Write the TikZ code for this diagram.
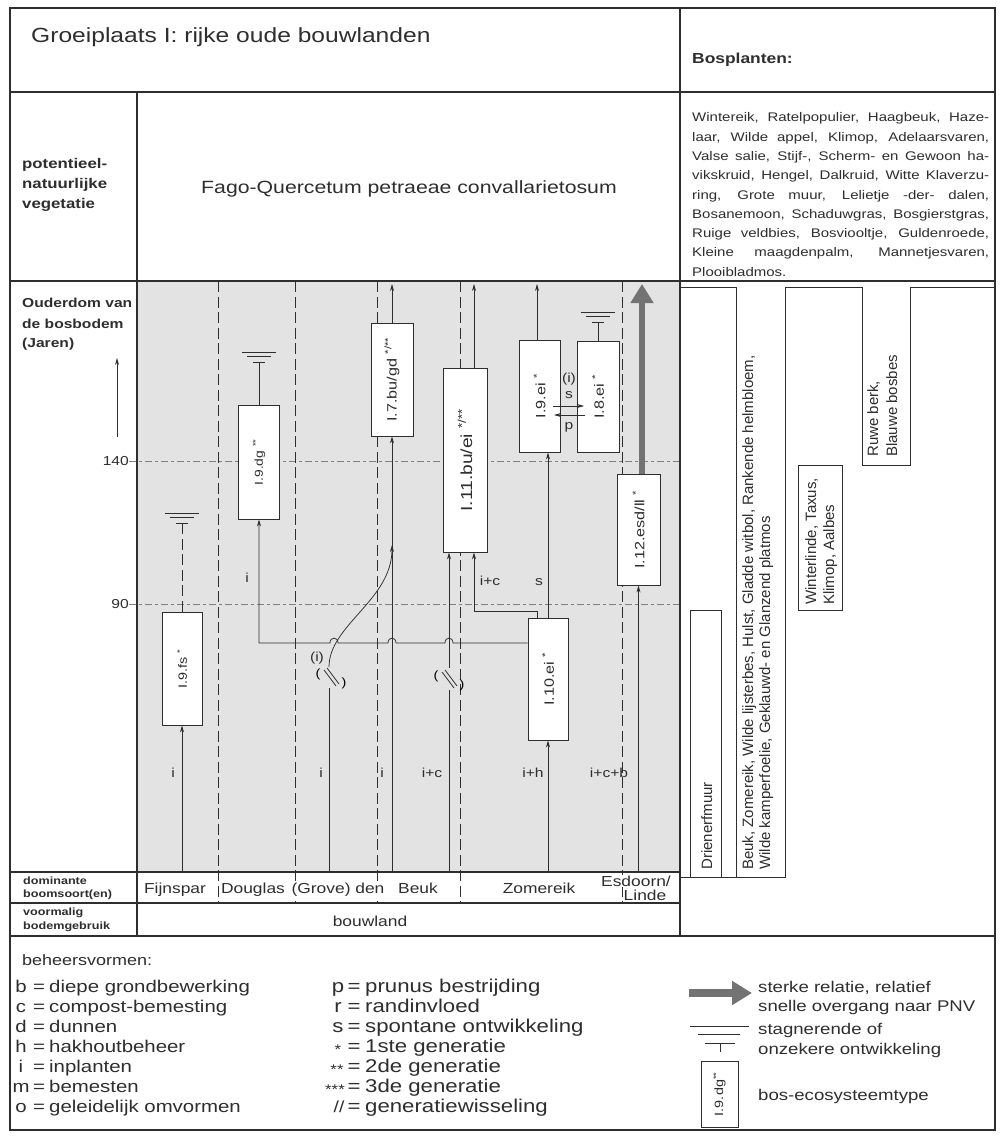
\documentclass[tikz,border=0pt]{standalone}
\usepackage{fontspec}
\setmainfont{Liberation Sans}
\newfontfamily\hv[FakeStretch=1.2]{Liberation Sans}
\usetikzlibrary{arrows.meta,calc}
\newcommand\fsz[1]{\fontsize{#1}{#1}\selectfont}
\definecolor{ink}{gray}{0.18}
\definecolor{stip}{gray}{0.89}
\definecolor{agel}{gray}{0.5}
\definecolor{pnv}{gray}{0.45}
\tikzset{
  frm/.style={draw=ink, line width=1.1pt},
  thinl/.style={draw=ink, line width=0.8pt},
  ebox/.style={draw=ink, fill=white, line width=0.9pt, inner sep=0pt},
  conn/.style={draw=ink, line width=0.75pt},
  arr/.style={conn, -{Stealth[length=7pt,width=4pt]}},
  colsep/.style={draw=ink, line width=0.8pt, dash pattern=on 11pt off 4.5pt},
  hsep/.style={draw=agel, line width=0.8pt, dash pattern=on 7pt off 3pt on 3pt off 3pt},
  lbl/.style={font=\hv\fsz{13}, text=ink, inner sep=0pt},
  blbl/.style={font=\hv\fsz{13.5}, text=ink, inner sep=0pt, rotate=90},
  plant/.style={font=\fsz{15}, text=ink, inner sep=0pt, rotate=90, anchor=base west},
  dom/.style={font=\hv\fsz{14.5}, text=ink, inner sep=1pt, fill=white, anchor=base},
  hd/.style={font=\hv\bfseries\fsz{13}, text=ink, inner sep=0pt, anchor=base west},
  lgd/.style={font=\hv\fsz{17}, text=ink, inner sep=0pt},
  mlg/.style={font=\hv\fsz{18.5}, text=ink, inner sep=0pt},
  rlg/.style={font=\hv\fsz{15.5}, text=ink, inner sep=0pt, anchor=base west},
  bpl/.style={font=\hv\fsz{12.5}, text=ink, inner sep=0pt, anchor=base west},
  pnvarrow/.style={draw=pnv, line width=6.5pt, -{Triangle[length=19pt,width=22pt]}},
  pnvleg/.style={draw=pnv, line width=8pt, -{Triangle[length=20pt,width=23pt]}},
  stag/.pic={\draw[ink, line width=0.8pt] (-17,0)--(17,0) (-12,4.5)--(12,4.5) (-6,10)--(6,10);},
  gw/.pic={\draw[ink, line width=0.8pt] (-7,-7)--(5,9) (-4,-9)--(8,7);
     \node[font=\hv\fsz{12}, inner sep=0pt] at (-13,-3) {(};
     \node[font=\hv\fsz{12}, inner sep=0pt] at (13,6) {)};},
}
\begin{document}
\begin{tikzpicture}[x=1pt,y=-1pt]
\useasboundingbox (0,0) rectangle (1003,1139);
\fill[white] (0,0) rectangle (1003,1139);
\fill[stip] (137,281) rectangle (680,872);

% age lines
\node[lbl, anchor=east] (l140) at (129,461) {140};
\node[lbl, anchor=east] (l90) at (129,604) {90};
\coordinate (e140) at (680,461);
\coordinate (e90) at (680,604);
\draw[hsep] (l140.east) -- (e140);
\draw[hsep] (l90.east) -- (e90);

% column separators
\foreach \x/\n in {218/a,295/b,377/c,460/d,622/e} {
  \coordinate (cs\n1) at (\x,281); \coordinate (cs\n2) at (\x,903);
  \draw[colsep] (cs\n1) -- (cs\n2);
}

% boxes
\node[ebox, minimum width=40pt, minimum height=113pt] (b9fs) at (182,668.5) {};
\node[ebox, minimum width=41pt, minimum height=114pt] (b9dg) at (259,462) {};
\node[ebox, minimum width=42pt, minimum height=113pt] (b7) at (392,379.5) {};
\node[ebox, minimum width=44pt, minimum height=184pt] (b11) at (465,460) {};
\node[ebox, minimum width=41pt, minimum height=112pt] (b9ei) at (539.5,396) {};
\node[ebox, minimum width=42pt, minimum height=111pt] (b8ei) at (598,396.5) {};
\node[ebox, minimum width=40pt, minimum height=122pt] (b10) at (548,679) {};
\node[ebox, minimum width=43pt, minimum height=111pt] (b12) at (638.5,529.5) {};

\node[blbl, font=\hv\fsz{12}] (t9fs) at (b9fs) {I.9.fs \textsuperscript{*}};
\node[blbl, font=\hv\fsz{11.5}] (t9dg) at (b9dg) {I.9.dg \textsuperscript{**}};
\node[blbl] (t7) at (b7) {I.7.bu/gd \textsuperscript{*/**}};
\node[blbl, font=\hv\fsz{16}] (t11) at (b11) {I.11.bu/ei \textsuperscript{*/**}};
\node[blbl] (t9ei) at (b9ei) {I.9.ei \textsuperscript{*}};
\node[blbl] (t8ei) at (b8ei) {I.8.ei \textsuperscript{*}};
\node[blbl] (t10) at (b10) {I.10.ei \textsuperscript{*}};
\node[blbl] (t12) at (b12) {I.12.esd/ll \textsuperscript{*}};

% connectors
\coordinate (cbot) at (0,872);
\coordinate (ctop) at (0,284);
\coordinate (busy) at (0,643);

% Fijnspar
\draw[arr] (b9fs.south |- cbot) -- (b9fs.south);
\pic at (182,513) {stag};
\coordinate (s1) at (182,523);
\draw[colsep] (b9fs.north) -- (s1);

% Douglas
\pic at (259,352) {stag};
\coordinate (s2) at (259,362);
\draw[conn] (b9dg.north) -- (s2);
\draw[arr] (b10.west |- busy) -- (453,643) .. controls (453,636.5) and (445,636.5) .. (445,643)
  -- (396,643) .. controls (396,636.5) and (388,636.5) .. (388,643)
  -- (338,643) .. controls (338,636.5) and (330,636.5) .. (330,643)
  -- (b9dg.south |- busy) -- (b9dg.south);

% (Grove) den
\coordinate (gd0) at (329,688);
\coordinate (gd1) at (329,667);
\coordinate (j7) at (392,545);
\draw[conn] (gd0 |- cbot) -- (gd0);
\pic at (331,677) {gw};
\draw[arr] (gd1) .. controls (329,625) and (392,600) .. (j7);

% Beuk
\draw[arr] (b7.south |- cbot) -- (b7.south);
\draw[arr] (b7.north) -- (b7.north |- ctop);
\coordinate (bk0) at (449,690);
\coordinate (bk1) at (449,668);
\draw[conn] (bk0 |- cbot) -- (bk0);
\pic at (449,679) {gw};
\draw[arr] (bk1) -- (bk1 |- b11.south);
\coordinate (k11) at (474,0);
\draw[arr] ($(b10.north west)+(10,0)$) -- ++(0,-6) -| (k11 |- b11.south);
\draw[arr] (k11 |- b11.north) -- (k11 |- ctop);

% Zomereik
\draw[arr] (b10.south |- cbot) -- (b10.south);
\draw[arr] (b10.north) -- (b10.north |- b9ei.south);
\coordinate (k9) at (537,0);
\draw[arr] (k9 |- b9ei.north) -- (k9 |- ctop);
\pic at (598,312) {stag};
\coordinate (s3) at (598,322);
\draw[conn] (b8ei.north) -- (s3);
\coordinate (h1a) at (553,406); \coordinate (h1b) at (584,406);
\coordinate (h2a) at (585,415); \coordinate (h2b) at (554,415);
\draw[arr] (h1a) -- (h1b);
\draw[arr] (h2a) -- (h2b);

% Esdoorn / Linde
\draw[arr] (b12.south |- cbot) -- (b12.south);
\coordinate (k12) at (642,0);
\draw[pnvarrow] (k12 |- b12.north) -- (k12 |- ctop);

% chart labels
\node[lbl, anchor=base] (la1) at (173,777) {i};
\node[lbl, anchor=base] (la2) at (321,777) {i};
\node[lbl, anchor=base] (la3) at (382,777) {i};
\node[lbl, anchor=base] (la4) at (432,777) {i+c};
\node[lbl, anchor=base] (la5) at (533,777) {i+h};
\node[lbl, anchor=base] (la6) at (609,777) {i+c+b};
\node[lbl, anchor=base] (la7) at (247,582) {i};
\node[lbl, anchor=base] (la8) at (490,585) {i+c};
\node[lbl, anchor=base] (la9) at (539,585) {s};
\node[lbl, anchor=base] (la10) at (317,661) {(i)};
\node[lbl, anchor=base] (la11) at (569,382) {(i)};
\node[lbl, anchor=base] (la12) at (569,398) {s};
\node[lbl, anchor=base] (la13) at (569,429) {p};

% label column
\node[hd] (ou1) at (22,308) {Ouderdom van};
\node[hd] (ou2) at (22,328) {de bosbodem};
\node[hd] (ou3) at (22,347) {(Jaren)};
\coordinate (ya0) at (117,437);
\coordinate (ya1) at (117,358);
\draw[arr] (ya0) -- (ya1);

\node[hd, font=\hv\bfseries\fsz{14}] (pn1) at (22,169) {potentieel-};
\node[hd, font=\hv\bfseries\fsz{14}] (pn2) at (22,189) {natuurlijke};
\node[hd, font=\hv\bfseries\fsz{14}] (pn3) at (22,209) {vegetatie};

\node[anchor=base west, font=\hv\fsz{20.5}, text=ink, inner sep=0pt] (title) at (31,43) {Groeiplaats I: rijke oude bouwlanden};
\node[anchor=base, font=\hv\fsz{17.7}, text=ink, inner sep=0pt] (fago) at (409,194) {Fago-Quercetum petraeae convallarietosum};

% dominante / voormalig rows
\node[hd, font=\hv\bfseries\fsz{10.5}] (do1) at (23,884) {dominante};
\node[hd, font=\hv\bfseries\fsz{10.5}] (do2) at (23,897) {boomsoort(en)};
\node[hd, font=\hv\bfseries\fsz{10.5}] (vo1) at (23,915) {voormalig};
\node[hd, font=\hv\bfseries\fsz{10.5}] (vo2) at (23,929) {bodemgebruik};
\node[dom] (d1) at (175,893) {Fijnspar};
\node[dom] (d2) at (253,893) {Douglas};
\node[dom] (d3) at (338,893) {(Grove) den};
\node[dom] (d4) at (418,893) {Beuk};
\node[dom] (d5) at (539,893) {Zomereik};
\node[dom] (d6) at (636,886) {Esdoorn/};
\node[dom, fill=none] (d7) at (645,900) {Linde};
\node[dom, fill=none] (bw) at (370,926) {bouwland};

% Bosplanten
\node[anchor=base west, font=\hv\bfseries\fsz{14.5}, text=ink, inner sep=0pt] (bosh) at (692,64) {Bosplanten:};
\node[bpl] (bp1) at (692,122) {\makebox[297pt][s]{Wintereik, Ratelpopulier, Haagbeuk, Haze-}};
\node[bpl] (bp2) at (692,141.3) {\makebox[297pt][s]{laar, Wilde appel, Klimop, Adelaarsvaren,}};
\node[bpl] (bp3) at (692,160.6) {\makebox[297pt][s]{Valse salie, Stijf-, Scherm- en Gewoon ha-}};
\node[bpl] (bp4) at (692,180) {\makebox[297pt][s]{vikskruid, Hengel, Dalkruid, Witte Klaverzu-}};
\node[bpl] (bp5) at (692,199.2) {\makebox[297pt][s]{ring, Grote muur, Lelietje -der- dalen,}};
\node[bpl] (bp6) at (692,218.5) {\makebox[297pt][s]{Bosanemoon, Schaduwgras, Bosgierstgras,}};
\node[bpl] (bp7) at (692,237.8) {\makebox[297pt][s]{Ruige veldbies, Bosviooltje, Guldenroede,}};
\node[bpl] (bp8) at (692,257) {\makebox[297pt][s]{Kleine maagdenpalm, Mannetjesvaren,}};
\node[bpl] (bp9) at (692,276.4) {Plooibladmos.};

% plant bands
\draw[thinl] (680,287) -- (736,287) -- (736,877);
\draw[thinl] (680,877) -- (785,877) -- (785,287) -- (862,287) -- (862,465) -- (910,465) -- (910,287) -- (995,287);
\draw[thinl] (690,877) -- (690,610) -- (721,610) -- (721,877);
\draw[thinl] (798,465) rectangle (842,610);
\node[plant] (pd) at (712,870) {Drienerfmuur};
\node[plant] (pb1) at (753,870) {Beuk, Zomereik, Wilde lijsterbes, Hulst, Gladde witbol, Rankende helmbloem,};
\node[plant] (pb2) at (770,870) {Wilde kamperfoelie, Geklauwd- en Glanzend platmos};
\node[plant] (pw1) at (816,605) {Winterlinde, Taxus,};
\node[plant] (pw2) at (834,605) {Klimop, Aalbes};
\node[plant] (pr1) at (878,457) {Ruwe berk,};
\node[plant] (pr2) at (897,457) {Blauwe bosbes};

% legend
\node[anchor=base west, font=\hv\fsz{15}, text=ink, inner sep=0pt] (bv) at (22,965) {beheersvormen:};
\foreach \k/\t [count=\i] in {b/diepe grondbewerking, c/compost-bemesting, d/dunnen, h/hakhoutbeheer, i/inplanten, m/bemesten, o/geleidelijk omvormen} {
  \pgfmathsetmacro\yy{972+20*\i}
  \node[lgd, anchor=base] (lk\i) at (21,\yy) {\k};
  \node[lgd, anchor=base] (le\i) at (39,\yy) {=};
  \node[lgd, anchor=base west] (lt\i) at (49,\yy) {\t};
}
\node[mlg, anchor=base] (mk1) at (338,992) {p};
\node[mlg, anchor=base] (mk2) at (338,1012) {r};
\node[mlg, anchor=base] (mk3) at (338,1032) {s};
\node[mlg, anchor=base, font=\hv\fsz{14}] (mk4) at (338,1054) {*};
\node[mlg, anchor=base, font=\hv\fsz{14}] (mk5) at (337,1074) {**};
\node[mlg, anchor=base, font=\hv\fsz{14}] (mk6) at (335,1094) {***};
\node[mlg, anchor=base, font=\hv\fsz{16}] (mk7) at (339,1112) {//};
\foreach \t [count=\i] in {prunus bestrijding, randinvloed, spontane ontwikkeling, 1ste generatie, 2de generatie, 3de generatie, generatiewisseling} {
  \pgfmathsetmacro\yy{972+20*\i}
  \node[mlg, anchor=base] (me\i) at (354,\yy) {=};
  \node[mlg, anchor=base west] (mt\i) at (365,\yy) {\t};
}
\coordinate (pa0) at (689,993);
\coordinate (pa1) at (752,993);
\draw[pnvleg] (pa0) -- (pa1);
\node[rlg] (r1) at (758,992) {sterke relatie, relatief};
\node[rlg] (r2) at (758,1011) {snelle overgang naar PNV};
\draw[conn] (690,1026) -- (749,1026) (698,1034) -- (740,1034) (705,1043) -- (735,1043) (720,1043) -- (720,1052);
\node[rlg] (r3) at (758,1034) {stagnerende of};
\node[rlg] (r4) at (758,1054) {onzekere ontwikkeling};
\node[ebox, minimum width=37pt, minimum height=66pt] (lgb) at (719.5,1094) {};
\node[blbl, font=\hv\fsz{12}] (lgbt) at (lgb) {I.9.dg\textsuperscript{**}};
\node[rlg] (r5) at (758,1100) {bos-ecosysteemtype};

% frame
\draw[frm] (10,8) rectangle (995,1130);
\draw[frm] (10,92) -- (995,92);
\draw[frm] (10,281) -- (995,281);
\draw[frm] (680,8) -- (680,936);
\draw[frm] (137,92) -- (137,936);
\draw[frm] (10,872) -- (680,872);
\draw[frm] (10,903) -- (680,903);
\draw[frm] (10,936) -- (995,936);
\end{tikzpicture}
\end{document}
